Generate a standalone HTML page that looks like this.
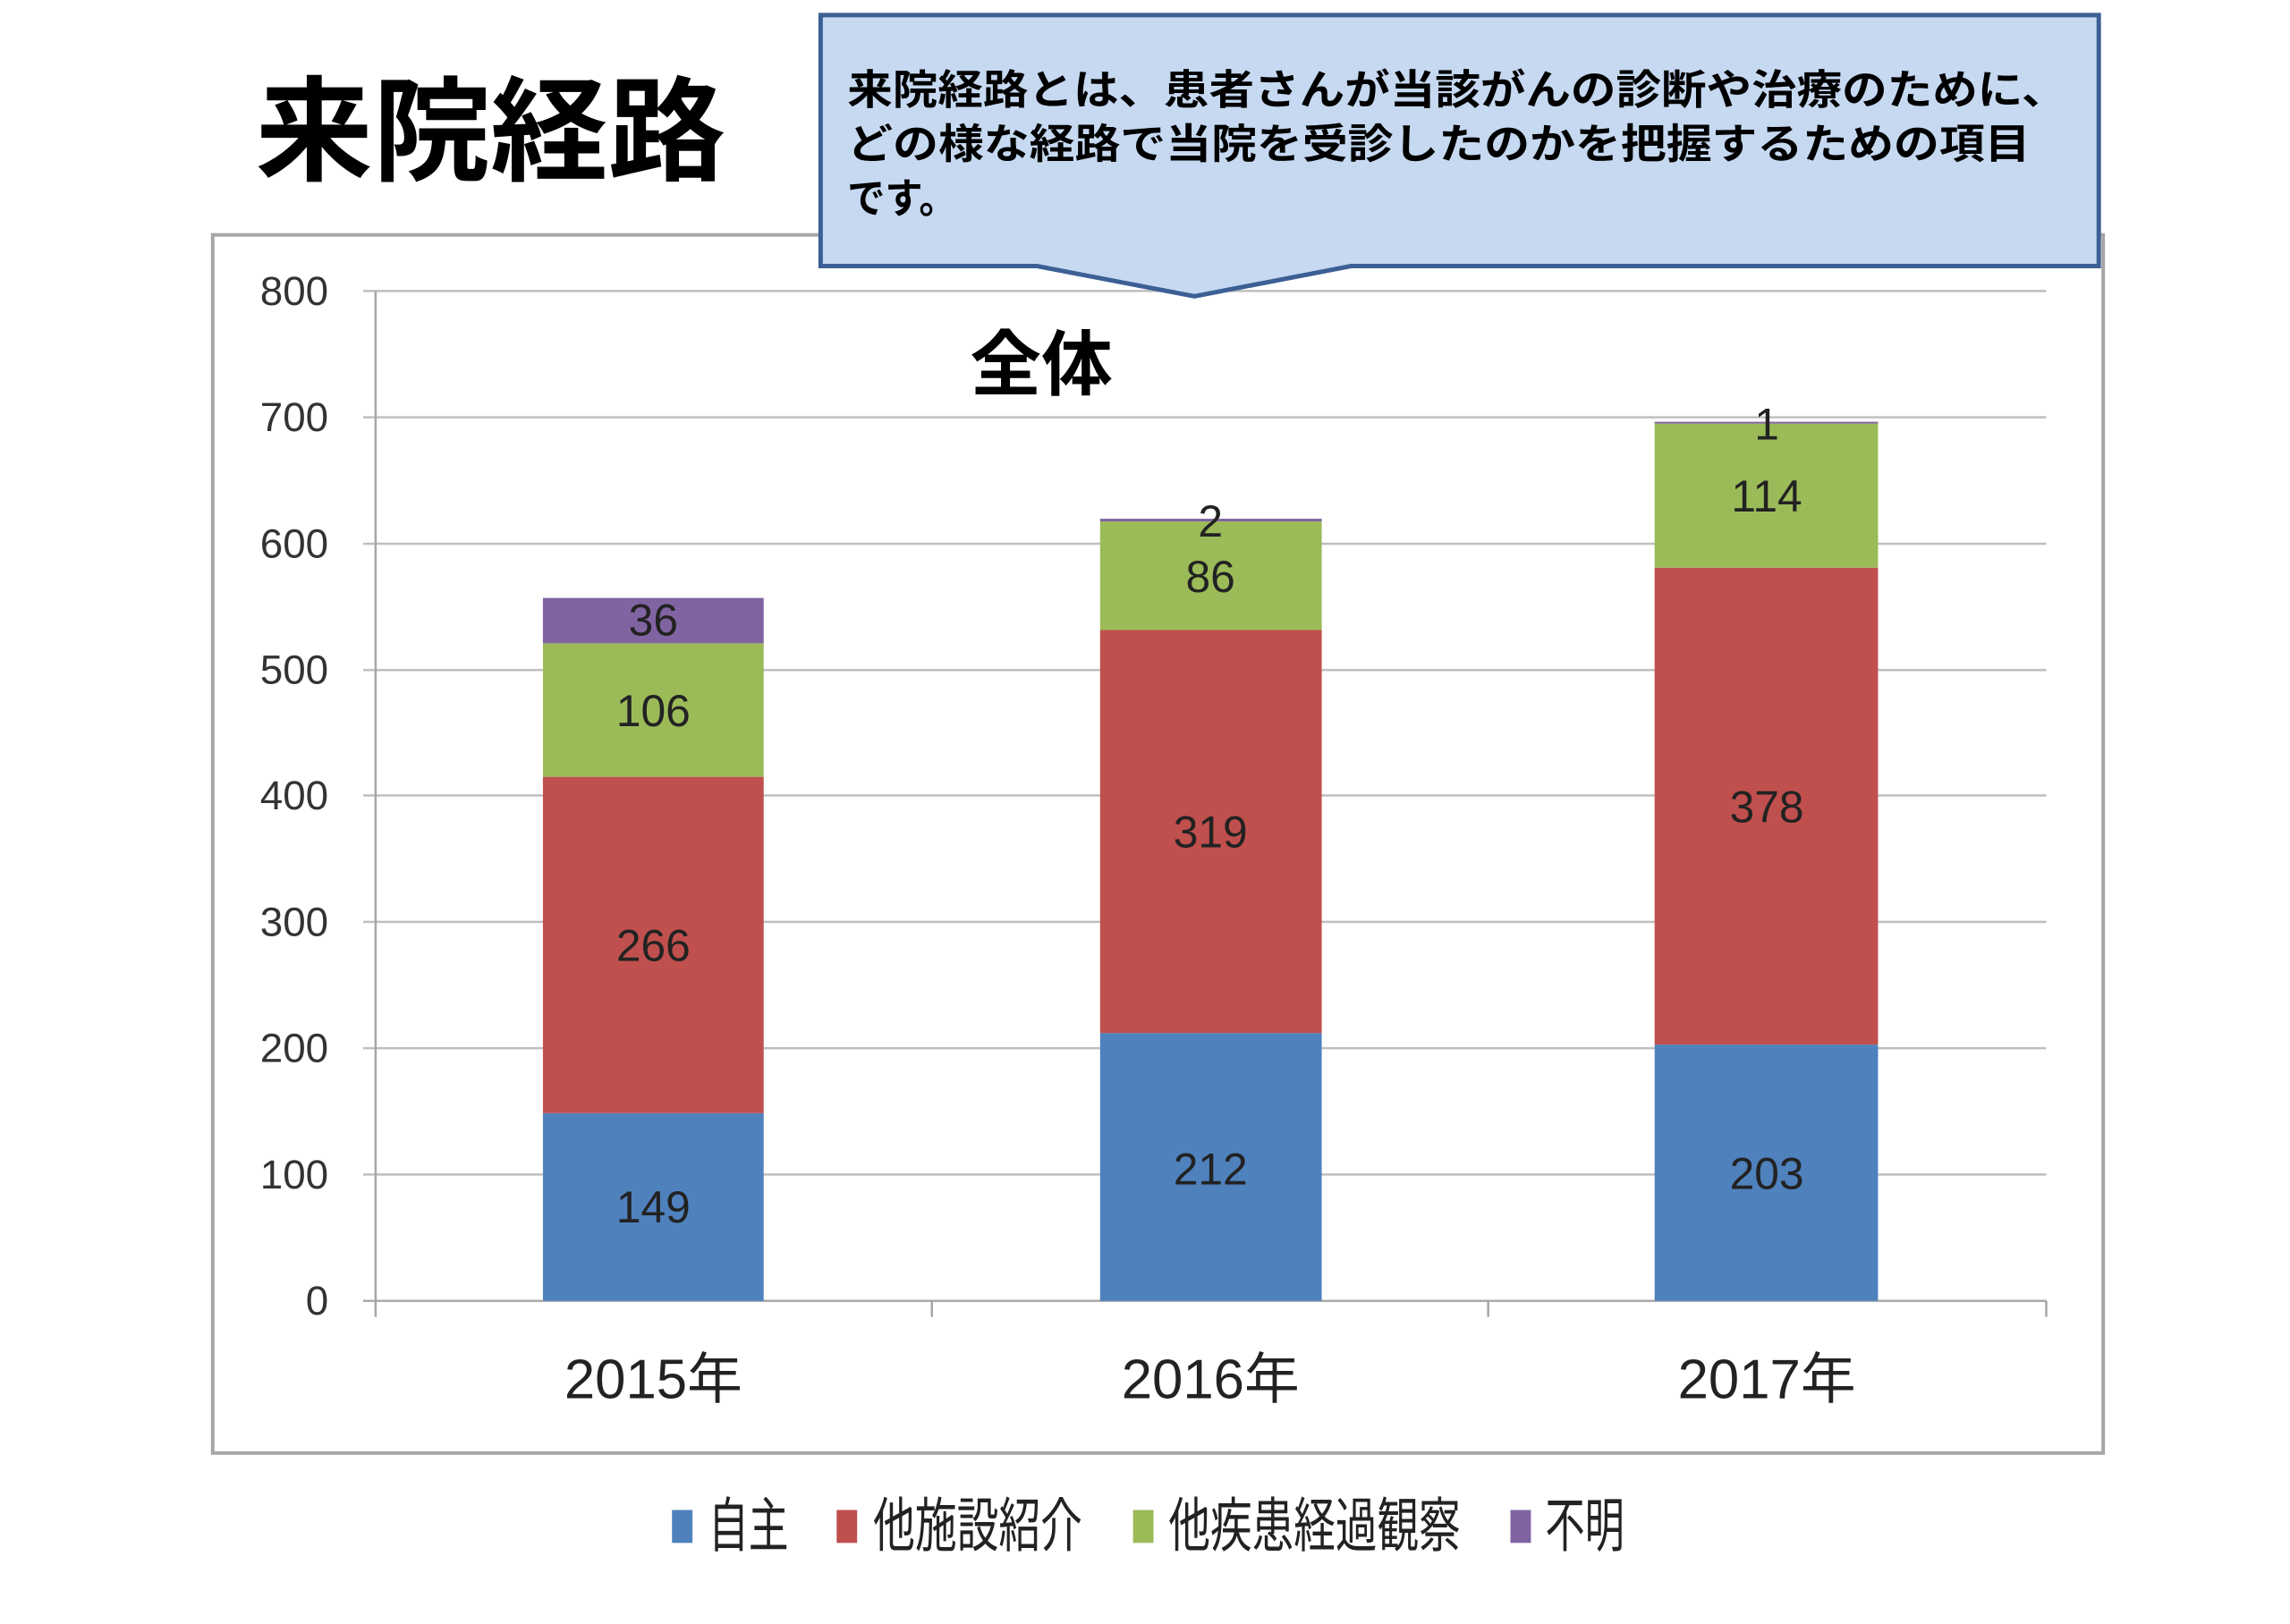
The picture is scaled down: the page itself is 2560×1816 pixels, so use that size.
<!DOCTYPE html>
<html><head><meta charset="utf-8"><style>
html,body{margin:0;padding:0;background:#fff}
svg text{font-family:"Liberation Sans","Noto Sans CJK JP",sans-serif}
</style></head><body>
<svg width="2560" height="1811" viewBox="0 0 2560 1811" xmlns="http://www.w3.org/2000/svg">
<rect width="2560" height="1811" fill="#fff"/>
<g transform="scale(0.995)">
<text x="287" y="193" font-size="128" font-weight="bold" fill="#000" textLength="528" lengthAdjust="spacingAndGlyphs" style="font-family:'Noto Sans CJK JP',sans-serif">来院経路</text>
<rect x="239" y="264" width="2124" height="1369" fill="#fff" stroke="#A6A6A6" stroke-width="4"/>
<g stroke="#BFBFBF" stroke-width="2.5">
<line x1="408" y1="327" x2="2299" y2="327"/>
<line x1="408" y1="469" x2="2299" y2="469"/>
<line x1="408" y1="611" x2="2299" y2="611"/>
<line x1="408" y1="753" x2="2299" y2="753"/>
<line x1="408" y1="894" x2="2299" y2="894"/>
<line x1="408" y1="1036" x2="2299" y2="1036"/>
<line x1="408" y1="1178" x2="2299" y2="1178"/>
<line x1="408" y1="1320" x2="2299" y2="1320"/>
</g>
<g stroke="#A6A6A6" stroke-width="2.5">
<line x1="422" y1="327" x2="422" y2="1480"/>
<line x1="408" y1="1462" x2="2299" y2="1462"/>
<line x1="1047" y1="1462" x2="1047" y2="1480"/>
<line x1="1672" y1="1462" x2="1672" y2="1480"/>
<line x1="2299" y1="1462" x2="2299" y2="1480"/>
</g>
<g font-size="46" fill="#333" text-anchor="end" dominant-baseline="central">
<text x="369" y="327">800</text><text x="369" y="469">700</text><text x="369" y="611">600</text><text x="369" y="753">500</text><text x="369" y="894">400</text><text x="369" y="1036">300</text><text x="369" y="1178">200</text><text x="369" y="1320">100</text><text x="369" y="1462">0</text>
</g>
<rect x="610" y="1251" width="248" height="211" fill="#4F81BD"/>
<rect x="610" y="873" width="248" height="378" fill="#C0504D"/>
<rect x="610" y="723" width="248" height="150" fill="#9BBB59"/>
<rect x="610" y="672" width="248" height="51" fill="#8064A2"/>
<rect x="1236" y="1161" width="249" height="301" fill="#4F81BD"/>
<rect x="1236" y="708" width="249" height="453" fill="#C0504D"/>
<rect x="1236" y="586" width="249" height="122" fill="#9BBB59"/>
<rect x="1236" y="583" width="249" height="3" fill="#8064A2"/>
<rect x="1859" y="1174" width="251" height="288" fill="#4F81BD"/>
<rect x="1859" y="638" width="251" height="536" fill="#C0504D"/>
<rect x="1859" y="476" width="251" height="162" fill="#9BBB59"/>
<rect x="1859" y="474" width="251" height="2" fill="#8064A2"/>
<g font-size="50" fill="#222" text-anchor="middle" dominant-baseline="central">
<text x="734" y="1357">149</text><text x="734" y="1063">266</text><text x="734" y="799">106</text><text x="734" y="697">36</text>
<text x="1360" y="1314">212</text><text x="1360" y="935">319</text><text x="1360" y="648">86</text><text x="1360" y="586">2</text>
<text x="1985" y="1319">203</text><text x="1985" y="907">378</text><text x="1985" y="558">114</text><text x="1985" y="477">1</text>
</g>
<g font-size="62" fill="#222" text-anchor="middle" dominant-baseline="central">
<text x="734" y="1551">2015年</text><text x="1360" y="1551">2016年</text><text x="1985" y="1551">2017年</text>
</g>
<text x="1170" y="410" font-size="80" font-weight="bold" text-anchor="middle" dominant-baseline="central" fill="#000">全体</text>
<path d="M922,17 L2358,17 L2358,299 L1518,299 L1342,333 L1165,299 L922,299 Z" fill="#C6D9F1" stroke="#3C5F95" stroke-width="5"/>
<g font-size="46" fill="#000" font-weight="bold">
<text x="952" y="117" textLength="1370" lengthAdjust="spacingAndGlyphs">来院経路とは、患者さんが当該がんの診断や治療のために、</text>
<text x="952" y="178" textLength="1329" lengthAdjust="spacingAndGlyphs">どの様な経路で当院を受診したのかを把握するための項目</text>
<text x="952" y="239" textLength="123" lengthAdjust="spacingAndGlyphs">です。</text>
</g>
<rect x="755" y="1697" width="23" height="37" fill="#4F81BD"/>
<rect x="940" y="1697" width="23" height="37" fill="#C0504D"/>
<rect x="1273" y="1697" width="23" height="37" fill="#9BBB59"/>
<rect x="1697" y="1697" width="23" height="37" fill="#8064A2"/>
<g font-size="66" fill="#222" dominant-baseline="central">
<text x="796" y="1715" textLength="90" lengthAdjust="spacingAndGlyphs">自主</text>
<text x="981" y="1715" textLength="235" lengthAdjust="spacingAndGlyphs">他施設紹介</text>
<text x="1313" y="1715" textLength="328" lengthAdjust="spacingAndGlyphs">他疾患経過観察</text>
<text x="1736" y="1715" textLength="89" lengthAdjust="spacingAndGlyphs">不明</text>
</g>
</g>
</svg>
</body></html>
